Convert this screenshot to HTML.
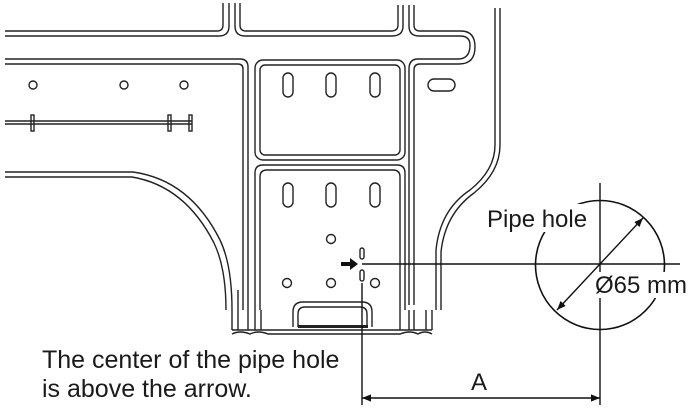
<!DOCTYPE html>
<html><head><style>
body{margin:0;background:#fff}
svg{display:block}
text{font-family:"Liberation Sans",Arial,sans-serif;fill:#1a1a1a}
</style></head><body>
<svg width="698" height="412" viewBox="0 0 698 412" xmlns="http://www.w3.org/2000/svg">
<defs>
<marker id="ah" viewBox="0 0 10 10" refX="10" refY="5" markerWidth="9" markerHeight="9" orient="auto-start-reverse" markerUnits="userSpaceOnUse"><path d="M0,1 L10,5 L0,9 z" fill="#111"/></marker>
</defs>
<g fill="none" stroke="#222" stroke-width="1.4">
<path d="M5,31 H217 Q223,31 223,25 V3"/>
<path d="M5,36 H219 Q229,36 229,26 V3"/>
<path d="M235,3 V26 Q235,36 245,36 H392 Q403,36 403,26 V5"/>
<path d="M240,3 V25 Q240,31 246,31 H391 Q398,31 398,25 V5"/>
<path d="M409,5 V26 Q409,36 419,36 H460 Q470,36 470,45 Q470,59 458,59 H418 Q409,59 409,69 V305"/>
<path d="M414,5 V25 Q414,31 420,31 H461 Q475,31 475,47 Q475,64 459,64 H420 Q414,64 414,70 V305"/>
<path d="M495,8 V145 Q495,170 470,190 Q440,210 436,250 V310"/>
<path d="M500,8 V145 Q500,172 474,193 Q445,214 441,252 V310"/>
<path d="M5,59 H240 Q248,59 248,67 V310"/>
<path d="M5,64 H238 Q243,64 243,69 V310"/>
<rect x="255" y="60" width="150" height="100" rx="8"/>
<rect x="260" y="65" width="140" height="90" rx="5"/>
<rect x="283" y="73" width="10" height="24" rx="5"/>
<rect x="326" y="73" width="10" height="24" rx="5"/>
<rect x="370" y="73" width="10" height="24" rx="5"/>
<rect x="428" y="79" width="27" height="12" rx="6"/>
<path d="M255,310 V173 Q255,165 263,165 H397 Q405,165 405,173 V310"/>
<path d="M260,310 V177 Q260,170 267,170 H393 Q400,170 400,177 V310"/>
<rect x="283" y="183" width="10" height="24" rx="5"/>
<rect x="326" y="183" width="10" height="24" rx="5"/>
<rect x="370" y="183" width="10" height="24" rx="5"/>
<circle cx="331" cy="239" r="4.5"/>
<circle cx="287" cy="283" r="4.5"/>
<circle cx="331" cy="283" r="4.5"/>
<circle cx="375" cy="283" r="4.5"/>
<rect x="360" y="248" width="4" height="11" rx="2"/>
<rect x="360" y="270" width="4" height="11" rx="2"/>
<circle cx="33" cy="85" r="4"/>
<circle cx="124" cy="85" r="4"/>
<circle cx="184" cy="85" r="4"/>
<path d="M5,121 H192 M5,124 H192"/>
<rect x="31" y="115" width="3" height="16"/>
<rect x="168" y="115" width="3" height="16"/>
<rect x="189" y="115" width="3" height="16"/>
<path d="M5,172 H133 Q190,180 220,240 Q232,265 232,310"/>
<path d="M5,177 H132 Q185,186 214,243 Q226,268 226,310"/>
<path d="M232,310 V330 M238,290 V330 M248,310 V330 M255,310 V330 M261,310 V330"/>
<path d="M432,310 V330 M426,310 V330 M414,310 V330 M409,310 V330 M400,310 V330"/>
<path d="M232,330 H432"/>
<path d="M232,334 Q240,330 250,334 Q258,330 268,334 H400 Q410,330 418,334 Q425,330 432,334"/>
<path d="M293,327 V312 Q293,302 303,302 H362 Q372,302 372,312 V327"/>
<path d="M298,327 V314 Q298,307 305,307 H360 Q367,307 367,314 V327"/>
</g>
<rect x="298" y="325" width="70" height="3" fill="#222"/>
<path d="M341,262 H350 V258 L358,264 L350,270 V266 H341 z" fill="#111"/>
<g stroke="#111" stroke-width="1.4" fill="none">
<path d="M362,264 H680"/>
<path d="M362,283 V405"/>
<path d="M600,183 V405"/>
<path d="M362,398 H600" marker-start="url(#ah)" marker-end="url(#ah)"/>
<circle cx="600" cy="265" r="64.5" stroke-width="1.6"/>
<path d="M557,310 L643,218" marker-start="url(#ah)" marker-end="url(#ah)"/>
</g>
<rect x="488" y="204" width="104" height="28" fill="#fff"/>
<text x="487" y="227" font-size="24">Pipe hole</text>
<rect x="596" y="272" width="96" height="26" fill="#fff"/>
<text x="595" y="293" font-size="24">Ø65 mm</text>
<text x="471" y="390" font-size="24">A</text>
<text x="42" y="368" font-size="25">The center of the pipe hole</text>
<text x="42" y="397" font-size="25">is above the arrow.</text>
</svg>
</body></html>
